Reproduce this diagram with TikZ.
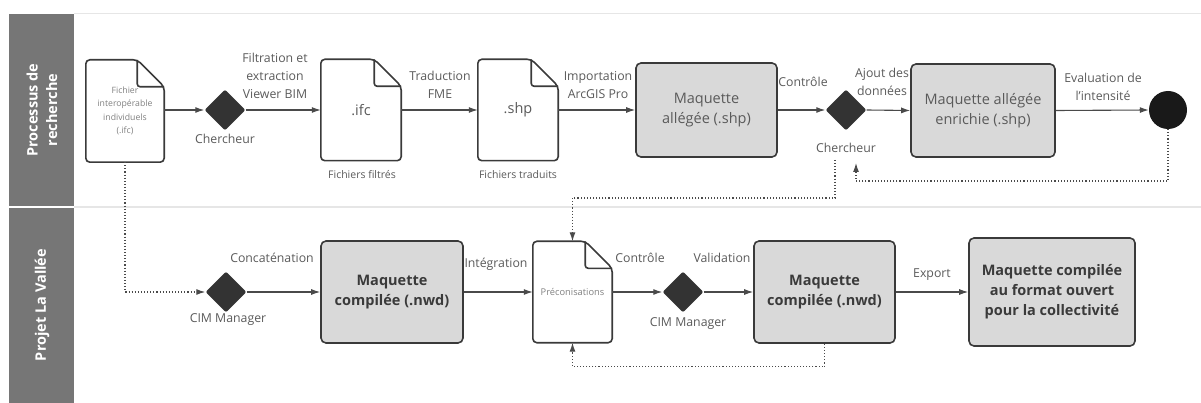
\documentclass[tikz,border=0pt]{standalone}
\usepackage{fontspec}
\setmainfont{Open Sans}
\usetikzlibrary{shapes.geometric,arrows.meta}
\definecolor{lanegray}{HTML}{767676}
\definecolor{boxgray}{HTML}{D9D9D9}
\definecolor{edgedark}{HTML}{3A3A3A}
\definecolor{gatedark}{HTML}{333333}
\definecolor{linegray}{HTML}{4A4A4A}
\definecolor{txtgray}{HTML}{5A5A5A}
\definecolor{txtdark}{HTML}{3A3A3A}
\definecolor{rulegray}{HTML}{E6E6E6}
\tikzset{
  docnode/.style={minimum width=80pt, minimum height=101pt, inner sep=2pt, align=center, text=txtgray},
  procbox/.style={draw=edgedark, line width=1.6pt, fill=boxgray, rounded corners=5pt, align=center,
    text=txtgray, font=\fontsize{14.5}{20}\selectfont},
  gate/.style={diamond, fill=gatedark, minimum width=41pt, minimum height=41pt, inner sep=0pt, rounded corners=2pt},
  flow/.style={draw=linegray, line width=1.1pt, -{Latex[length=9pt,width=6pt]}},
  backflow/.style={draw=linegray, dotted, line width=1.1pt, -{Latex[length=9pt,width=6pt]}},
  lbl/.style={text=txtgray, align=center, font=\fontsize{12.3}{18}\selectfont},
  lanetitle/.style={rotate=90, text=white, align=center, font=\bfseries\fontsize{14.5}{19.5}\selectfont},
}
% outline of a document with a folded corner
\newcommand\docoutline[1]{%
  \draw[edgedark, line width=1.6pt, rounded corners=4pt] (#1.north west) -- ([xshift=-27pt]#1.north east)
    -- ([yshift=-27pt]#1.north east) -- (#1.south east) -- (#1.south west) -- cycle;
  \draw[edgedark, line width=1.6pt, rounded corners=3pt] ([xshift=-27pt]#1.north east) |- ([yshift=-27pt]#1.north east);}
\begin{document}
\begin{tikzpicture}[x=1pt, y=-1pt]
\useasboundingbox (0,0) rectangle (1201,403);
% lanes
\fill[lanegray] (9,14) rectangle (74,206);
\fill[lanegray] (9,208) rectangle (74,403);
\draw[rulegray, line width=1pt] (74,14) -- (1201,14);
\draw[rulegray, line width=2pt] (74,207) -- (1201,207);
\node[lanetitle] (laneA) at (42,110) {Processus de\\recherche};
\node[lanetitle] (laneB) at (42,305) {Projet La Vallée};

% research process
\node[docnode, minimum width=78pt, minimum height=102pt, font=\fontsize{8.7}{13.5}\selectfont, text=gray] (docA) at (125,111)
  {Fichier\\interopérable\\individuels\\(.ifc)};
\node[gate] (dmdA) at (225,110) {};
\node[docnode, font=\fontsize{14.5}{17}\selectfont] (docB) at (361,110) {.ifc};
\node[docnode, font=\fontsize{14.5}{17}\selectfont] (docC) at (518,110) {.shp};
\node[procbox, minimum width=141pt, minimum height=94pt] (boxA) at (706.5,110) {Maquette\\allégée (.shp)};
\node[gate] (dmdB) at (846,110) {};
\node[procbox, minimum width=144pt, minimum height=93pt] (boxB) at (983,110.5) {Maquette allégée\\enrichie (.shp)};
\node[circle, fill=black!90, minimum size=38pt, inner sep=0pt] (endC) at (1168,110) {};
\docoutline{docA}
\docoutline{docB}
\docoutline{docC}

\node[lbl] (lblFilt) at (275,76) {Filtration et\\extraction\\Viewer BIM};
\node[lbl] (lblTrad) at (440,85) {Traduction\\FME};
\node[lbl] (lblImp) at (598,85) {Importation\\ArcGIS Pro};
\node[lbl] (lblCtrlA) at (803,82) {Contrôle};
\node[lbl] (lblAjout) at (882,82) {Ajout des\\données};
\node[lbl] (lblEval) at (1103,87) {Evaluation de\\l'intensité};
\node[lbl] (lblChA) at (225,139) {Chercheur};
\node[lbl] (lblChB) at (846,148) {Chercheur};
\node[lbl, font=\fontsize{10.5}{12}\selectfont] (lblFiltres) at (362,175) {Fichiers filtrés};
\node[lbl, font=\fontsize{10.5}{12}\selectfont] (lblTraduits) at (518,175) {Fichiers traduits};

\draw[flow] (docA.east |- dmdA) -- (dmdA.west);
\draw[flow] (dmdA.east) -- (docB.west);
\draw[flow] (docB.east) -- (docC.west);
\draw[flow] (docC.east) -- (boxA.west);
\draw[flow] (boxA.east) -- (dmdB.west);
\draw[flow] (dmdB.east) -- (boxB.west);
\draw[flow] (boxB.east) -- (endC.west);

% La Vallee project
\node[gate] (dmdC) at (226,292) {};
\node[procbox, minimum width=142pt, minimum height=102pt, font=\bfseries\fontsize{14.5}{20}\selectfont, text=txtdark] (boxC) at (392,292) {Maquette\\compilée (.nwd)};
\node[docnode, minimum width=79pt, font=\fontsize{9.3}{12}\selectfont, text=gray] (docD) at (572.5,292) {Préconisations};
\node[gate] (dmdD) at (683,292) {};
\node[procbox, minimum width=141pt, minimum height=102pt, font=\bfseries\fontsize{14.5}{20}\selectfont, text=txtdark] (boxD) at (824.5,292) {Maquette\\compilée (.nwd)};
\node[procbox, minimum width=166pt, minimum height=108pt, font=\bfseries\fontsize{14.5}{20}\selectfont, text=txtdark] (boxE) at (1052,292) {Maquette compilée\\au format ouvert\\pour la collectivité};
\docoutline{docD}

\node[lbl] (lblConcat) at (272,258) {Concaténation};
\node[lbl] (lblInteg) at (496,264) {Intégration};
\node[lbl] (lblCtrlB) at (640,258) {Contrôle};
\node[lbl] (lblValid) at (722,258) {Validation};
\node[lbl] (lblExport) at (932,275) {Export};
\node[lbl] (lblCimA) at (228,320) {CIM Manager};
\node[lbl] (lblCimB) at (688,324) {CIM Manager};

\draw[flow] (dmdC.east) -- (boxC.west);
\draw[flow] (boxC.east) -- (docD.west);
\draw[flow] (docD.east) -- (dmdD.west);
\draw[flow] (dmdD.east) -- (boxD.west);
\draw[flow] (boxD.east) -- (boxE.west);

% dotted returns
\coordinate (retB) at (856,163);
\coordinate (outB) at (835,160);
\draw[backflow] (docA.south) |- (dmdC.west);
\draw[backflow] (endC.south) |- ([yshift=-18pt]retB) -- (retB);
\draw[backflow] (outB) -- ([yshift=-38pt]outB) -| (docD.north);
\draw[backflow] (boxD.south) -- ([yshift=-23pt]boxD.south) -| (docD.south);
\end{tikzpicture}
\end{document}
